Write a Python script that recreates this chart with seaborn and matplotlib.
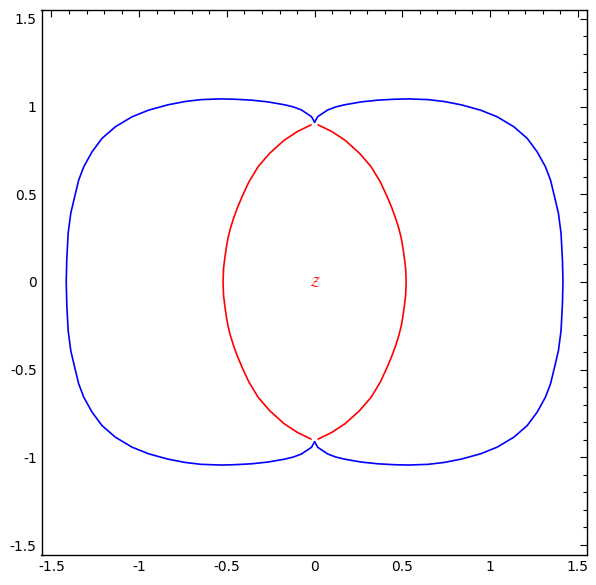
import numpy as np
import pandas as pd
import matplotlib
matplotlib.use("Agg")
import matplotlib.pyplot as plt
import seaborn as sns
from matplotlib.ticker import MultipleLocator, FormatStrFormatter

# one quadrant of each curve (the shape is symmetric)
blue_qx = [0.0, 0.018, 0.075, 0.120, 0.169, 0.266, 0.361, 0.454, 0.533, 0.647,
           0.740, 0.837, 0.946, 1.041, 1.136, 1.212, 1.269, 1.316, 1.345, 1.368,
           1.390, 1.405, 1.413, 1.416]
blue_qy = [0.911, 0.943, 0.981, 0.998, 1.010, 1.027, 1.037, 1.042, 1.044, 1.040,
           1.029, 1.010, 0.980, 0.942, 0.885, 0.819, 0.742, 0.657, 0.581, 0.486,
           0.392, 0.278, 0.125, 0.0]
red_qx = [0.020, 0.098, 0.174, 0.255, 0.321, 0.375, 0.412, 0.441, 0.463, 0.480,
          0.494, 0.504, 0.512, 0.519, 0.522]
red_qy = [0.896, 0.858, 0.808, 0.735, 0.659, 0.570, 0.490, 0.421, 0.360, 0.306,
          0.250, 0.192, 0.135, 0.078, 0.0]
label_text = r"$\mathcal{Z}$"


def half(qx, qy):
    # upper quadrant + its reflection below the x axis
    x = list(qx) + list(qx[::-1])
    y = list(qy) + [-v for v in qy[::-1]]
    return x, y


curves = []
for name, qx, qy in [("blue", blue_qx, blue_qy), ("red", red_qx, red_qy)]:
    hx, hy = half(qx, qy)
    curves.append(pd.DataFrame({"x": hx, "y": hy, "part": name + "_r"}))
    curves.append(pd.DataFrame({"x": [-v for v in hx], "y": hy, "part": name + "_l"}))
df = pd.concat(curves, ignore_index=True)

sns.set_style("white")
plt.rcParams["axes.unicode_minus"] = False
plt.rcParams["font.family"] = ["DejaVu Sans"]

fig = plt.figure(figsize=(5.96, 5.85), dpi=100)
ax = fig.add_axes([41.5 / 596, 1 - 555 / 585, 545.5 / 596, 545 / 585])

colors = {"blue_r": "#0000ff", "blue_l": "#0000ff", "red_r": "#ff0000", "red_l": "#ff0000"}
for part, sub in df.groupby("part"):
    sns.lineplot(data=sub, x="x", y="y", sort=False, estimator=None,
                 color=colors[part], linewidth=1.2, ax=ax)

ax.text(0, 0, label_text, color="#ff0000", fontsize=10, ha="center", va="center")

ax.set_xlim(-1.557, 1.553)
ax.set_ylim(-1.557, 1.551)
ax.set_xlabel("")
ax.set_ylabel("")
ax.xaxis.set_major_locator(MultipleLocator(0.5))
ax.yaxis.set_major_locator(MultipleLocator(0.5))
ax.xaxis.set_minor_locator(MultipleLocator(0.1))
ax.yaxis.set_minor_locator(MultipleLocator(0.1))
ax.xaxis.set_major_formatter(FormatStrFormatter("%g"))
ax.yaxis.set_major_formatter(FormatStrFormatter("%g"))
ax.tick_params(which="both", direction="in", top=True, right=True,
               colors="black", labelsize=10, width=0.8)
ax.tick_params(which="major", length=5)
ax.tick_params(which="minor", length=3)
for s in ax.spines.values():
    s.set_color("black")
    s.set_linewidth(1.0)

fig.savefig("out.png", dpi=100)
